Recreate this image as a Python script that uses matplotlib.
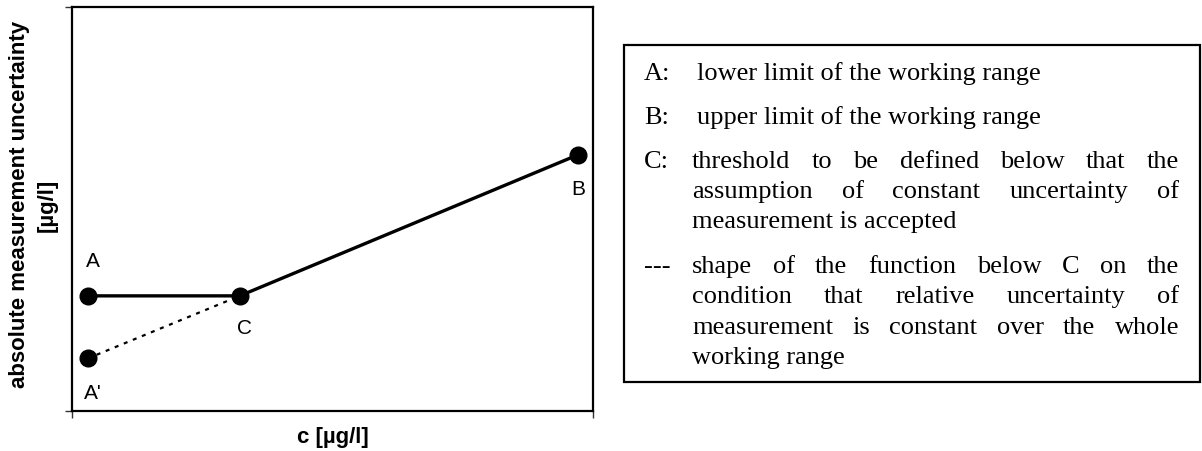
import matplotlib
matplotlib.use("Agg")
import matplotlib.pyplot as plt
from matplotlib.patches import Rectangle

W, H, DPI = 1202, 451, 100

# ---- data ----
solid_x = [0.30, 3.22, 9.71]
solid_y = [2.85, 2.85, 6.34]
dotted_x = [0.30, 3.22]
dotted_y = [1.30, 2.85]
point_names = ["A", "C", "B", "A'"]
point_x = [0.30, 3.22, 9.71, 0.30]
point_y = [2.85, 2.85, 6.34, 1.30]
label_offsets_px = [(5, 34), (5, -33), (0, -35), (5, -35)]

legend_keys = ["A:", "B:", "C:", "---"]
legend_paragraphs = [
    ["lower limit of the working range"],
    ["upper limit of the working range"],
    ["threshold to be defined below that the",
     "assumption of constant uncertainty of",
     "measurement is accepted"],
    ["shape of the function below C on the",
     "condition that relative uncertainty of",
     "measurement is constant over the whole",
     "working range"],
]
x_label = "c [µg/l]"
y_label_lines = ["absolute measurement uncertainty", "[µg/l]"]

# ---- figure ----
fig = plt.figure(figsize=(W / DPI, H / DPI), dpi=DPI)

def fx(px):
    return px / W

def fy(py):
    return 1 - py / H

ax_l, ax_r, ax_t, ax_b = 72, 593, 7, 411
ax = fig.add_axes([fx(ax_l), fy(ax_b), fx(ax_r) - fx(ax_l), fy(ax_t) - fy(ax_b)])
ax.set_xlim(0, 10)
ax.set_ylim(0, 10)
ax.set_xticks([0, 10])
ax.set_yticks([0, 10])
ax.set_xticklabels([])
ax.set_yticklabels([])
ax.tick_params(direction="out", length=5, width=1, color="#333333")
for s in ax.spines.values():
    s.set_linewidth(1.6)
    s.set_color("black")

ax.plot(dotted_x, dotted_y, color="black", lw=1.6, linestyle=(0, (1.8, 2.6)), zorder=2)
ax.plot(solid_x, solid_y, color="black", lw=2.4, solid_capstyle="butt", zorder=3)
ax.plot(point_x, point_y, "o", color="black", ms=12, zorder=4)

sans = ["Liberation Sans", "DejaVu Sans"]
for name, x, y, (dx, dy) in zip(point_names, point_x, point_y, label_offsets_px):
    ax.annotate(name, (x, y), xytext=(dx * 0.72, dy * 0.72), textcoords="offset points",
                ha="center", va="center", fontsize=15, family=sans)

fig.text(fx(333), fy(438), x_label, ha="center", va="center", fontsize=16,
         fontweight="bold", family=sans)
fig.text(fx(20), fy(204), y_label_lines[0], ha="center", va="center", rotation=90,
         fontsize=16, fontweight="bold", family=sans)
fig.text(fx(47), fy(205), y_label_lines[1], ha="center", va="center", rotation=90,
         fontsize=16, fontweight="bold", family=sans)

# ---- legend box ----
box_l, box_t, box_r, box_b = 624, 45, 1200, 382
fig.add_artist(Rectangle((fx(box_l), fy(box_b)), fx(box_r) - fx(box_l), fy(box_t) - fy(box_b),
                         transform=fig.transFigure, fill=False, lw=1.6, ec="black"))

serif = ["Liberation Serif", "DejaVu Serif"]
renderer = fig.canvas.get_renderer()

def width_px(s, size):
    t = fig.text(0, 0, s, fontsize=size, family=serif)
    w = t.get_window_extent(renderer).width
    t.remove()
    return w

# fit font size to measured width of first line
target_w = 343
fs = 10 * target_w / width_px(legend_paragraphs[0][0], 10)

line_centers = [[74], [118], [162, 192, 222], [267, 297, 328, 358]]
body_left = [697, 697, 692, 692]
key_left = 644
right_edge = 1179
for key, para, ys, bl in zip(legend_keys, legend_paragraphs, line_centers, body_left):
    fig.text(fx(key_left), fy(ys[0] + 6), key, fontsize=fs, family=serif, va="baseline", ha="left")
    for i, (line, yc) in enumerate(zip(para, ys)):
        yb = fy(yc + 6)
        words = line.split()
        if i == len(para) - 1 or len(words) < 2:
            fig.text(fx(bl), yb, line, fontsize=fs, family=serif, va="baseline", ha="left")
        else:
            ws = [width_px(w, fs) for w in words]
            gap = (right_edge - bl - sum(ws)) / (len(words) - 1)
            x = bl
            for w, wd in zip(words, ws):
                fig.text(fx(x), yb, w, fontsize=fs, family=serif, va="baseline", ha="left")
                x += wd + gap

fig.savefig("out.png", dpi=DPI)
